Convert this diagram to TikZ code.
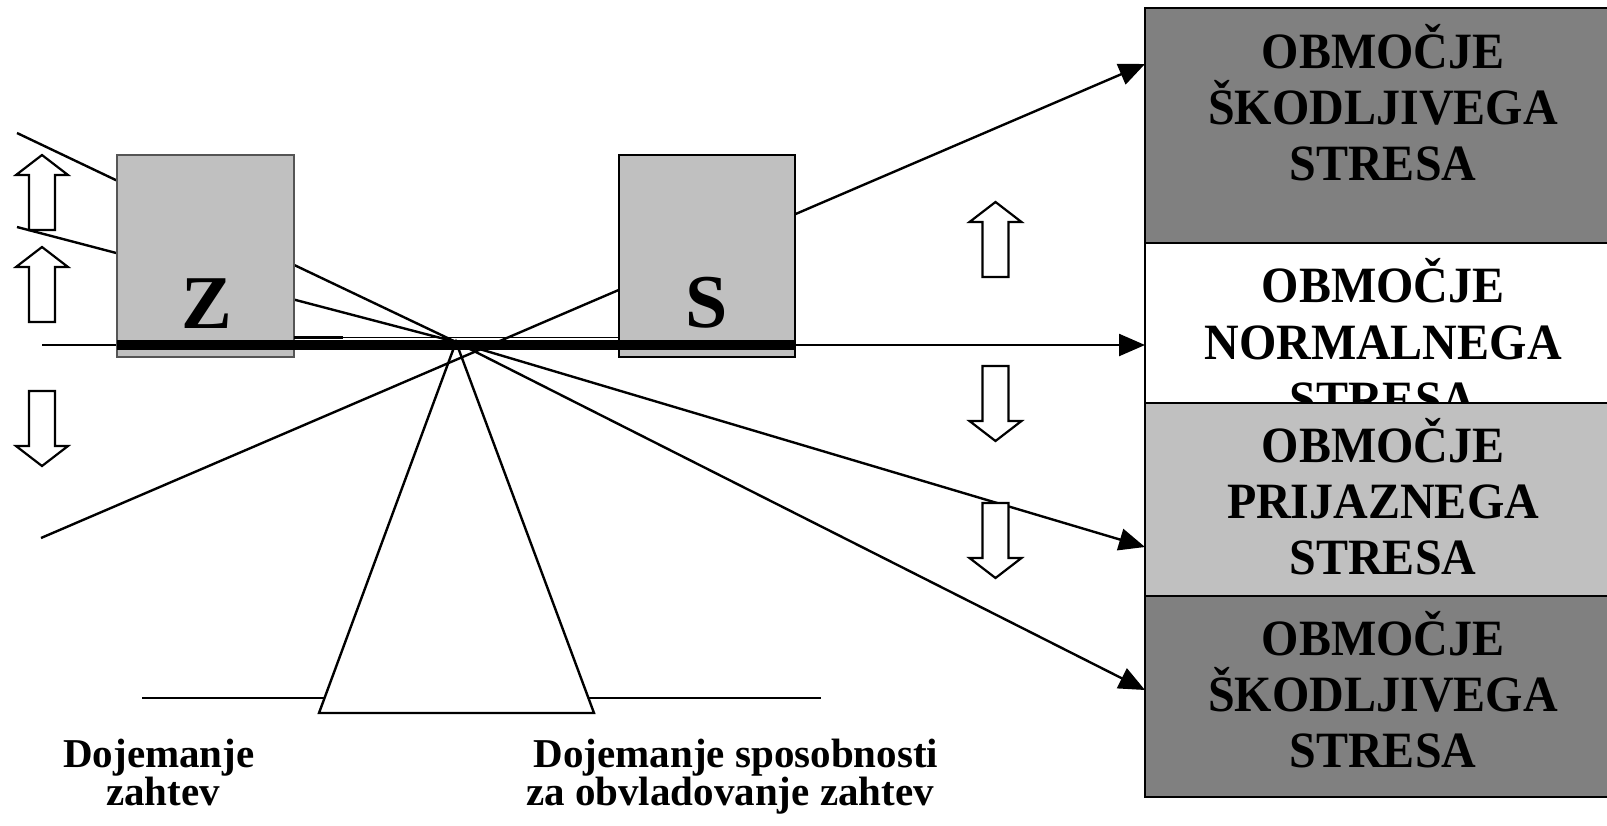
\documentclass[tikz,border=0pt]{standalone}
\usepackage{fontspec}
\setmainfont{Liberation Serif}
\usetikzlibrary{arrows.meta}
\definecolor{lgray}{HTML}{C0C0C0}
\definecolor{dgray}{HTML}{808080}
\definecolor{zborder}{HTML}{555555}
\tikzset{
  conn/.style={line width=2.4pt, draw=black},
  arr/.style={conn, -{Triangle[length=26pt,width=22pt]}},
  barrow/.style={draw=black, fill=white, line width=2.2pt, line join=miter},
  zone/.style={draw=black, line width=2.5pt},
  zt/.style={font=\fontsize{48}{56}\selectfont\bfseries, anchor=base, inner sep=0pt, yscale=1.06, transform shape},
  lab/.style={font=\fontsize{41}{38}\selectfont\bfseries, anchor=base, inner sep=0pt},
  big/.style={font=\fontsize{76}{80}\selectfont\bfseries, anchor=base, inner sep=0pt},
  blockup/.pic={\draw[barrow] (0,0) -- (26,20) -- (13,20) -- (13,75) -- (-13,75) -- (-13,20) -- (-26,20) -- cycle;}
}
\begin{document}
\begin{tikzpicture}[x=1pt,y=-1pt]
\useasboundingbox (0,0) rectangle (1607,825);
% coordinates
\coordinate (pivot) at (456,342);
\coordinate (l1) at (17,133);
\coordinate (l2) at (17,227);
\coordinate (d0) at (41,538);
\coordinate (h0) at (42,345);
\coordinate (e1) at (1145,64);
\coordinate (e2) at (1145,345);
\coordinate (e3) at (1145,547);
\coordinate (e4) at (1145,690);
\coordinate (g1) at (142,698);
\coordinate (g2) at (821,698);
\coordinate (tl) at (319,713);
\coordinate (tr) at (594,713);
% ground and fulcrum
\draw[conn] (g1) -- (g2);
\draw[conn, fill=white, line join=miter] (tl) -- (pivot) -- (tr) -- cycle;
% lines
\draw[conn] (l1) -- (pivot);
\draw[conn] (l2) -- (pivot);
\draw[arr] (d0) -- (e1);
\draw[arr] (h0) -- (e2);
\draw[arr] (pivot) -- (e3);
\draw[arr] (pivot) -- (e4);
% weights
\draw[fill=lgray, draw=zborder, line width=2pt] (117,155) rectangle (294,357);
\draw[fill=lgray, draw=black, line width=2.2pt] (619,155) rectangle (795,357);
% beam
\draw[line width=10pt] (117,344.5) -- (795,344.5);
\draw[line width=1.5pt] (294,337.5) -- (619,337.5);
\draw[line width=3pt] (294,337) -- (343,337);
\node[big] (Z) at (207,328) {Z};
\node[big] (S) at (707,327) {S};
% block arrows
\pic at (42,155) {blockup};
\pic at (42,247) {blockup};
\pic[rotate=180] at (42,466) {blockup};
\pic at (995.5,202) {blockup};
\pic[rotate=180] at (995.5,441) {blockup};
\pic[rotate=180] at (995.5,578) {blockup};
% zones
\draw[zone, fill=dgray] (1145,8) rectangle (1620,243);
\node[zt] (a1) at (1383,68) {OBMOČJE};
\node[zt] (a2) at (1383,124) {ŠKODLJIVEGA};
\node[zt] (a3) at (1383,180) {STRESA};
\draw[zone, fill=white] (1145,243) rectangle (1620,403);
\node[zt] (b1) at (1383,302) {OBMOČJE};
\node[zt] (b2) at (1383,359) {NORMALNEGA};
\node[zt] (b3) at (1383,416) {STRESA};
\draw[zone, fill=lgray] (1145,403) rectangle (1620,596);
\node[zt] (c1) at (1383,462) {OBMOČJE};
\node[zt] (c2) at (1383,518) {PRIJAZNEGA};
\node[zt] (c3) at (1383,574) {STRESA};
\draw[zone, fill=dgray] (1145,596) rectangle (1620,797);
\node[zt] (f1) at (1383,655) {OBMOČJE};
\node[zt] (f2) at (1383,711) {ŠKODLJIVEGA};
\node[zt] (f3) at (1383,767) {STRESA};
% labels
\node[lab] (z1) at (159,767) {Dojemanje};
\node[lab] (z2) at (163,805) {zahtev};
\node[lab] (s1) at (736,767) {Dojemanje sposobnosti};
\node[lab] (s2) at (730,805) {za obvladovanje zahtev};
\end{tikzpicture}
\end{document}
